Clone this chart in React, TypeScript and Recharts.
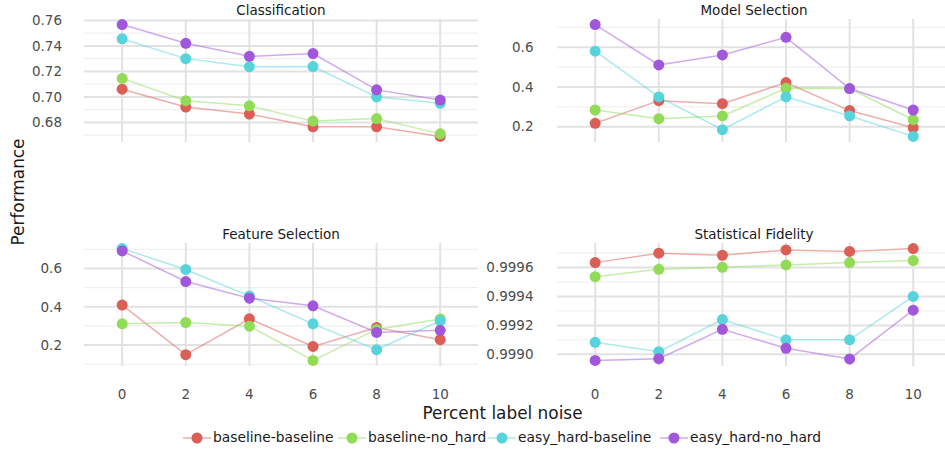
import React from 'react';
import { LineChart, Line, XAxis, YAxis, CartesianGrid } from 'recharts';

const noiseLevels = [0, 2, 4, 6, 8, 10];
const seriesNames = ['baseline-baseline', 'baseline-no_hard', 'easy_hard-baseline', 'easy_hard-no_hard'];
const seriesColors = ['#db5f57', '#91db57', '#57d3db', '#a157db'];

// Classification
const classBaselineBaseline = [0.706, 0.692, 0.6865, 0.6765, 0.6765, 0.669];
const classBaselineNoHard = [0.7145, 0.697, 0.693, 0.681, 0.683, 0.671];
const classEasyHardBaseline = [0.7455, 0.730, 0.7237, 0.7238, 0.700, 0.695];
const classEasyHardNoHard = [0.7567, 0.742, 0.7318, 0.734, 0.7055, 0.6975];
const classMajorTicks = [0.68, 0.70, 0.72, 0.74, 0.76];
const classMinorTicks = [0.67, 0.69, 0.71, 0.73, 0.75];

// Model Selection
const modelBaselineBaseline = [0.217, 0.331, 0.316, 0.422, 0.281, 0.195];
const modelBaselineNoHard = [0.284, 0.240, 0.254, 0.393, 0.392, 0.235];
const modelEasyHardBaseline = [0.580, 0.350, 0.185, 0.350, 0.254, 0.151];
const modelEasyHardNoHard = [0.714, 0.511, 0.561, 0.650, 0.392, 0.284];
const modelMajorTicks = [0.2, 0.4, 0.6];
const modelMinorTicks = [0.3, 0.5, 0.7];

// Feature Selection
const featBaselineBaseline = [0.409, 0.150, 0.337, 0.193, 0.292, 0.228];
const featBaselineNoHard = [0.311, 0.318, 0.299, 0.120, 0.282, 0.336];
const featEasyHardBaseline = [0.704, 0.595, 0.456, 0.311, 0.176, 0.327];
const featEasyHardNoHard = [0.692, 0.532, 0.445, 0.405, 0.266, 0.277];
const featMajorTicks = [0.2, 0.4, 0.6];
const featMinorTicks = [0.1, 0.3, 0.5, 0.7];

// Statistical Fidelity
const statBaselineBaseline = [0.999634, 0.999699, 0.999685, 0.999722, 0.999711, 0.999731];
const statBaselineNoHard = [0.999537, 0.999588, 0.999602, 0.999618, 0.999634, 0.999648];
const statEasyHardBaseline = [0.999083, 0.999018, 0.99924, 0.9991, 0.9991, 0.9994];
const statEasyHardNoHard = [0.998958, 0.99897, 0.999173, 0.999042, 0.998968, 0.999305];
const statMajorTicks = [0.9990, 0.9992, 0.9994, 0.9996];
const statMinorTicks = [0.9991, 0.9993, 0.9995, 0.9997];

const legendDotX = [197, 352, 502, 674];

const FONT = '"DejaVu Sans", sans-serif';

type Panel = {
  title: string;
  series: number[][];
  major: number[];
  minor: number[];
  decimals: number;
  left: number;
  top: number;
  showX: boolean;
};

const PLOT_W = 394.4;
const PLOT_H = 123;
const YAXIS_W = 84;
const TOP_PAD = 14;

const panels: Panel[] = [
  { title: 'Classification', series: [classBaselineBaseline, classBaselineNoHard, classEasyHardBaseline, classEasyHardNoHard], major: classMajorTicks, minor: classMinorTicks, decimals: 2, left: 83.8, top: 19.3, showX: false },
  { title: 'Model Selection', series: [modelBaselineBaseline, modelBaselineNoHard, modelEasyHardBaseline, modelEasyHardNoHard], major: modelMajorTicks, minor: modelMinorTicks, decimals: 1, left: 556.8, top: 19.3, showX: false },
  { title: 'Feature Selection', series: [featBaselineBaseline, featBaselineNoHard, featEasyHardBaseline, featEasyHardNoHard], major: featMajorTicks, minor: featMinorTicks, decimals: 1, left: 83.8, top: 243, showX: true },
  { title: 'Statistical Fidelity', series: [statBaselineBaseline, statBaselineNoHard, statEasyHardBaseline, statEasyHardNoHard], major: statMajorTicks, minor: statMinorTicks, decimals: 4, left: 556.8, top: 243, showX: true },
];

function expandDomain(series: number[][]): [number, number] {
  const all = series.flat();
  const lo = Math.min(...all);
  const hi = Math.max(...all);
  const pad = (hi - lo) * 0.05;
  return [lo - pad, hi + pad];
}

function PanelChart({ p }: { p: Panel }) {
  const rows = noiseLevels.map((x, i) => {
    const r: Record<string, number> = { x };
    seriesNames.forEach((n, k) => { r[n] = p.series[k][i]; });
    return r;
  });
  const domain = expandDomain(p.series);
  const xHeight = p.showX ? 40 : 0;
  return (
    <div style={{ position: 'absolute', left: p.left - YAXIS_W, top: p.top - TOP_PAD }}>
      <LineChart width={PLOT_W + YAXIS_W} height={PLOT_H + xHeight + TOP_PAD} data={rows} margin={{ top: TOP_PAD, right: 0, bottom: 0, left: 0 }}>
        <CartesianGrid horizontal={true} vertical={false} horizontalValues={p.minor} stroke="#ececec" strokeWidth={1} />
        <CartesianGrid horizontal={true} vertical={true} horizontalValues={p.major} verticalValues={noiseLevels} stroke="#e2e2e2" strokeWidth={2} />
        <XAxis
          type="number"
          dataKey="x"
          domain={[-1.2, 11.2]}
          ticks={noiseLevels}
          interval={0}
          hide={!p.showX}
          height={xHeight}
          axisLine={false}
          tickLine={false}
          tickSize={0}
          tickMargin={23.6}
          tick={{ fill: '#4d4d4d', fontSize: 13.5, fontFamily: FONT }}
        />
        <YAxis
          type="number"
          domain={domain}
          ticks={p.major}
          interval={0}
          width={YAXIS_W}
          axisLine={false}
          tickLine={false}
          tickSize={0}
          tickMargin={p.left > 300 ? 23.5 : 22}
          tickFormatter={(v: number) => v.toFixed(p.decimals)}
          tick={{ fill: '#4d4d4d', fontSize: 13.5, fontFamily: FONT }}
        />
        {seriesNames.map((n, k) => (
          <Line key={'l' + n} type="linear" dataKey={n} stroke={seriesColors[k]} strokeOpacity={0.5} strokeWidth={1.5} dot={false} activeDot={false} isAnimationActive={false} />
        ))}
        {seriesNames.map((n, k) => (
          <Line key={'d' + n} type="linear" dataKey={n} stroke="none" dot={{ r: 5.5, fill: seriesColors[k], stroke: 'none', fillOpacity: 1 }} activeDot={false} isAnimationActive={false} />
        ))}
      </LineChart>
    </div>
  );
}

function CenterText({ x, y, size, color, children, rotate }: { x: number; y: number; size: number; color: string; children: React.ReactNode; rotate?: boolean }) {
  return (
    <div style={{
      position: 'absolute', left: x, top: y, whiteSpace: 'nowrap', fontFamily: FONT, fontSize: size, color, lineHeight: 1,
      transform: `translate(-50%, -50%)${rotate ? ' rotate(-90deg)' : ''}`,
    }}>{children}</div>
  );
}

export default function App() {
  return (
    <div style={{ position: 'absolute', left: 0, top: 0, width: 945, height: 452, overflow: 'hidden', background: '#fff' }}>
      {panels.map((p) => <PanelChart key={p.title} p={p} />)}
      {panels.map((p) => (
        <CenterText key={'t' + p.title} x={p.left + PLOT_W / 2} y={p.top - 8.5} size={13.5} color="#1a1a1a">{p.title}</CenterText>
      ))}
      <CenterText x={502.5} y={413} size={16.9} color="#1a1a1a">Percent label noise</CenterText>
      <CenterText x={18} y={192} size={16.9} color="#1a1a1a" rotate>Performance</CenterText>
      {seriesNames.map((n, k) => (
        <div key={n} style={{ position: 'absolute', left: legendDotX[k] - 14, top: 429, height: 18, display: 'flex', alignItems: 'center', fontFamily: FONT, fontSize: 13.8, color: '#1a1a1a', whiteSpace: 'nowrap' }}>
          <svg width={28} height={18}>
            <line x1={0} y1={9} x2={28} y2={9} stroke={seriesColors[k]} strokeOpacity={0.5} strokeWidth={1.5} />
            <circle cx={14} cy={9} r={5.5} fill={seriesColors[k]} />
          </svg>
          <span style={{ marginLeft: 2, lineHeight: 1 }}>{n}</span>
        </div>
      ))}
    </div>
  );
}
